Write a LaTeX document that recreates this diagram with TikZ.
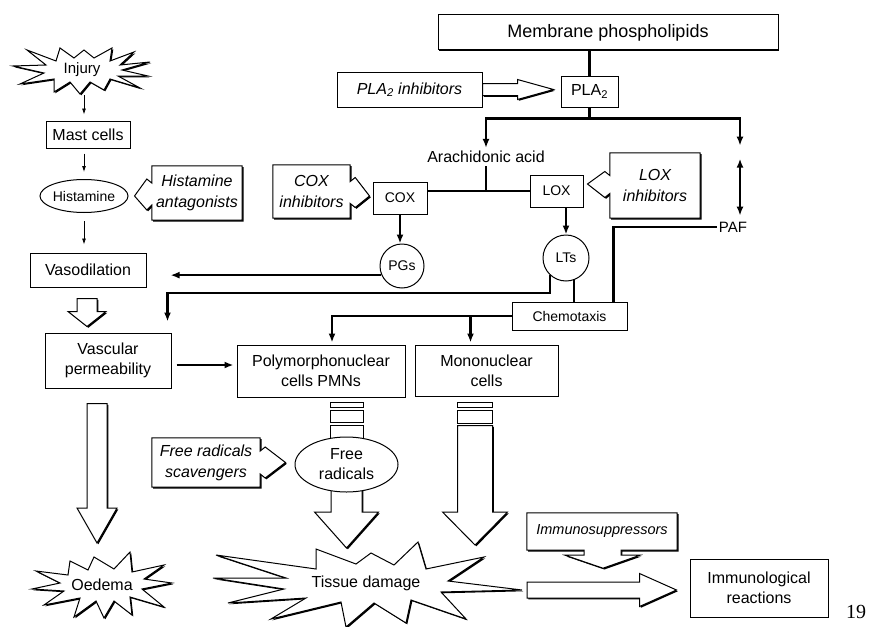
\documentclass[tikz,border=0pt]{standalone}
\usepackage{fontspec}
\setmainfont{Liberation Sans}
\newfontfamily\pagefont{Liberation Serif}
\usetikzlibrary{calc,shapes.geometric,shadows,arrows.meta,backgrounds}

% hollow block arrows: start, tip, half shaft, half head, head length
\newcommand\vblock[5]{%
  \path #1 coordinate (vb-top) #2 coordinate (vb-end);
  \draw[hollow] ($(vb-top)+(-#3,0)$) -- ($(vb-top |- vb-end)+(-#3,-#5)$)
    -- ($(vb-top |- vb-end)+(-#4,-#5)$) -- (vb-top |- vb-end)
    -- ($(vb-top |- vb-end)+(#4,-#5)$) -- ($(vb-top |- vb-end)+(#3,-#5)$)
    -- ($(vb-top)+(#3,0)$) -- cycle;}
\newcommand\hblock[5]{%
  \path #1 coordinate (hb-start) #2 coordinate (hb-end);
  \draw[hollow] ($(hb-start)+(0,-#3)$) -- ($(hb-end |- hb-start)+(-#5,-#3)$)
    -- ($(hb-end |- hb-start)+(-#5,-#4)$) -- (hb-end |- hb-start)
    -- ($(hb-end |- hb-start)+(-#5,#4)$) -- ($(hb-end |- hb-start)+(-#5,#3)$)
    -- ($(hb-start)+(0,#3)$) -- cycle;}

\begin{document}
\begin{tikzpicture}[x=1pt,y=-1pt,
    font=\fontsize{16}{20}\selectfont,
    boxshadow/.style={drop shadow={shadow xshift=1.3pt,shadow yshift=-1.3pt,
        fill=black,opacity=1}},
    box/.style args={#1 by #2}{draw,line width=1pt,fill=white,boxshadow,
        align=center,inner sep=1pt,
        minimum width=#1pt,minimum height=#2pt},
    inhib/.style args={#1 by #2}{align=center,inner sep=0pt,
        font=\fontsize{16}{21}\selectfont\itshape,
        minimum width=#1pt,minimum height=#2pt},
    inhibline/.style={draw,line width=1pt,fill=white,boxshadow},
    small/.style={font=\fontsize{14}{17}\selectfont},
    oval/.style args={#1 by #2}{ellipse,draw,line width=1pt,fill=white,
        inner sep=0pt,minimum width=#1pt,minimum height=#2pt},
    ring/.style={circle,draw,line width=1pt,fill=white,inner sep=0pt,
        minimum size=#1pt},
    burstline/.style={draw,line width=1pt,fill=white,boxshadow,line join=miter},
    hollow/.style={draw,line width=1pt,fill=white,boxshadow},
    conn/.style={line width=2.2pt},
    connarrow/.style={conn,-{Latex[length=9pt,width=7pt]}},
    thinarrow/.style={line width=0.8pt,-{Latex[length=6pt,width=4pt]}}]
  \useasboundingbox (0,0) rectangle (877,626);

  % left column
  \node[font=\fontsize{15}{18}\selectfont] (injury) at (82,70) {Injury};
  \node[box=84 by 27] (mast) at (88,134.5) {Mast cells};
  \node[oval=75 by 33,small] (hist) at (84,196) {Histamine};
  \node[inhib=90 by 54] (histant) at (197,193) {Histamine\\antagonists};
  \node[box=116 by 34] (vasod) at (88,270) {Vasodilation};
  \node[box=126 by 55] (vascp) at (108,360.5) {Vascular\\permeability};
  \node (oedema) at (102,585) {Oedema};

  % arachidonic acid cascade
  \node[box=340 by 35,font=\fontsize{18}{22}\selectfont] (mem) at (608,32.5)
    {Membrane phospholipids};
  \node[box=57 by 31] (pla) at (589.5,91.5) {PLA\textsubscript{2}};
  \node[box=145 by 35,font=\fontsize{16}{20}\selectfont\itshape] (plainh)
    at (409.5,89.5) {PLA\textsubscript{2} inhibitors};
  \node[inner sep=3pt] (arach) at (486,157) {Arachidonic acid};
  \node[box=54 by 32,small] (cox) at (400,198) {COX};
  \node[box=53 by 32,small] (lox) at (556.5,191) {LOX};
  \node[inhib=77 by 53] (coxinh) at (311.5,191.5) {COX\\inhibitors};
  \node[inhib=90 by 65] (loxinh) at (655,185.5) {LOX\\inhibitors};
  \node[font=\fontsize{15}{18}\selectfont,inner sep=2pt] (paf) at (733,227) {PAF};
  \node[ring=44,small] (pgs) at (402,266) {PGs};
  \node[ring=46,small] (lts) at (566,258) {LTs};
  \node[box=115 by 28,small] (chemo) at (569.5,316) {Chemotaxis};

  % cells and damage
  \node[box=168 by 52] (pmn) at (321,371) {Polymorphonuclear\\cells PMNs};
  \node[box=143 by 51] (mono) at (486.5,370.5) {Mononuclear\\cells};
  \node[oval=103 by 55,align=center] (freerad) at (346.5,464.5) {Free\\radicals};
  \node[inhib=108 by 49] (frsc) at (206,462.5) {Free radicals\\scavengers};
  \node (tissue) at (366,583) {Tissue damage};
  \node[inhib=150 by 37,font=\fontsize{14.5}{17}\selectfont\itshape]
    (immsup) at (602,531.5) {Immunosuppressors};
  \node[box=138 by 58] (immreac) at (759,588) {Immunological\\reactions};
  \node[font=\pagefont\fontsize{20}{24}\selectfont] (pageno) at (856,612) {19};

  % thin arrows
  \draw[thinarrow,shorten <=25pt,shorten >=6pt] (injury.center -| hist.north)
    -- (mast.north -| hist.north);
  \draw[thinarrow,shorten <=5pt,shorten >=7pt] (mast.south -| hist.north) -- (hist.north);
  \draw[thinarrow,shorten <=8pt,shorten >=8pt] (hist.south) -- (hist.south |- vasod.north);

  % thick connectors
  \draw[conn] (mem.south -| pla.north) -- (pla.north);
  \draw[conn] (pla.south) -- ++(0,11) coordinate (plaj);
  \draw[connarrow] (plaj) -| (arach.north);
  \draw[connarrow] (plaj) -| ($(paf.north)+(7,-74)$);
  \draw[conn,{Latex[length=9pt,width=7pt]}-{Latex[length=9pt,width=7pt]}]
    ($(paf.north)+(7,-61)$) -- ($(paf.north)+(7,-4)$);
  \draw[conn] (arach.south) -- (arach.south |- lox.west);
  \draw[conn] (cox.east |- lox.west) -- (lox.west);
  \draw[connarrow] (cox.south) -- (cox.south |- pgs.north);
  \draw[connarrow] (lts.north |- lox.south) -- (lts.north);
  \draw[connarrow] (pgs.204) -- ($(vasod.east |- pgs.204)+(24,0)$);
  \draw[connarrow] (lts.227) -- ++(0,18) -| ($(vascp.north east)+(-4,-11)$);
  \draw[conn] (lts.-70) -- (lts.-70 |- chemo.north);
  \draw[conn] (paf.west) -| ($(chemo.north east)+(-14,0)$);
  \draw[connarrow] (chemo.west) -| ($(pmn.north)+(11,-2)$);
  \draw[connarrow] ($(chemo.west -| mono.north)+(-16,0)$) -- ($(mono.north)+(-16,-2)$);
  \draw[connarrow] ($(vascp.east)+(5,4.5)$) -- ($(pmn.west |- vascp.east)+(-3,4.5)$);

  % bands under the cell boxes
  \draw[line width=1pt] ($(pmn.south -| freerad)+(-16.5,5)$) rectangle ++(33,5);
  \draw[line width=1pt] ($(pmn.south -| freerad)+(-16.5,13)$) rectangle ++(33,12);
  \draw[line width=1pt] ($(mono.south)+(-29,6)$) rectangle ++(35,5);
  \draw[line width=1pt] ($(mono.south)+(-29,14)$) rectangle ++(35,13);

  \begin{scope}[on background layer]
    % starbursts
    \draw[burstline,shift={(injury.center)}] plot coordinates {
      (68,-8) (38,-5) (52,-18) (28,-9) (30,-22) (12,-12) (2,-20) (-8,-12)
      (-22,-22) (-26,-9) (-55,-20) (-36,-5) (-69,-4) (-38,3) (-62,14)
      (-28,9) (-28,22) (-12,12) (-2,24) (8,12) (22,20) (28,9) (58,18)
      (36,6) (66,6) (40,0)} -- cycle;
    \draw[burstline,shift={(oedema.center)}] plot coordinates {
      (70,-2) (42,-6) (62,-20) (30,-13) (28,-33) (12,-16) (-8,-28)
      (-14,-15) (-32,-24) (-34,-10) (-66,-14) (-42,-2) (-70,4) (-38,6)
      (-58,20) (-22,13) (-28,32) (-6,16) (2,33) (12,16) (30,30) (28,12)
      (62,22) (40,4)} -- cycle;
    \draw[burstline,shift={(tissue.center)}] plot coordinates {
      (156,7) (82,-2) (118,-26) (60,-14) (52,-41) (28,-18) (5,-30)
      (-10,-19) (-50,-34) (-50,-14) (-150,-28) (-80,-5) (-153,-5) (-82,6)
      (-138,20) (-60,15) (-95,36) (-25,19) (-20,44) (8,20) (40,40) (45,17)
      (100,36) (75,9)} -- cycle;

    % inhibitor boxes with their arrow heads
    \draw[inhibline] (histant.north west) -- (histant.north east)
      -- (histant.south east) -- (histant.south west)
      -- ($(histant.west)+(0,12)$) -- ($(histant.west)+(-5,17)$)
      -- ($(hist.east)+(6,0)$) -- ($(histant.west)+(-5,-14)$)
      -- ($(histant.west)+(0,-10)$) -- cycle;
    \draw[inhibline] (coxinh.north west) -- (coxinh.north east)
      -- ($(coxinh.east)+(0,-10)$) -- ($(coxinh.east)+(5,-14)$)
      -- ($(cox.west)+(-3,-2)$) -- ($(coxinh.east)+(5,16)$)
      -- ($(coxinh.east)+(0,12)$) -- (coxinh.south east)
      -- (coxinh.south west) -- cycle;
    \draw[inhibline] (loxinh.north west) -- (loxinh.north east)
      -- (loxinh.south east) -- (loxinh.south west)
      -- ($(loxinh.west)+(0,8)$) -- ($(loxinh.west)+(-5,12)$)
      -- ($(lox.east)+(4,-7)$) -- ($(loxinh.west)+(-5,-14)$)
      -- ($(loxinh.west)+(0,-10)$) -- cycle;
    \draw[inhibline] (frsc.north west) -- (frsc.north east)
      -- ($(frsc.east)+(0,-11.5)$) -- ($(frsc.east)+(5,-15.5)$)
      -- ($(freerad.west)+(-9,-2)$) -- ($(frsc.east)+(5,15.5)$)
      -- ($(frsc.east)+(0,11.5)$) -- (frsc.south east)
      -- (frsc.south west) -- cycle;
    \draw[inhibline] (immsup.north west) -- (immsup.north east)
      -- (immsup.south east) -- ($(immsup.south)+(19,0)$) -- ++(0,5)
      -- ($(immsup.south)+(38,5)$) -- ($(immsup.south)+(1,18)$)
      -- ($(immsup.south)+(-37,5)$) -- ($(immsup.south)+(-18,5)$) -- ++(0,-5)
      -- (immsup.south west) -- cycle;

    % hollow arrows
    \hblock{(plainh.east)}{($(pla.west)+(-7,0)$)}{6}{10}{36}
    \vblock{($(vasod.south)+(-1,11)$)}{($(vascp.north)+(0,-6)$)}{10}{19}{15}
    \vblock{($(vascp.south)+(-11,15)$)}{($(oedema.center)+(0,-42)$)}{10}{20}{35}
    \draw[hollow] ($(pmn.south -| freerad)+(-16.5,28)$) rectangle ($(freerad.center)+(16.5,0)$);
    \vblock{(freerad.center)}{($(tissue.center)+(0,-35)$)}{15.5}{32}{36}
    \vblock{($(mono.south)+(-11.5,29)$)}{($(tissue.center)+(0,-38)$)}{17.5}{32.5}{33}
    \hblock{($(tissue.center)+(161,7)$)}{($(immreac.west)+(-13,0)$)}{8}{16.5}{37}
  \end{scope}
\end{tikzpicture}
\end{document}
